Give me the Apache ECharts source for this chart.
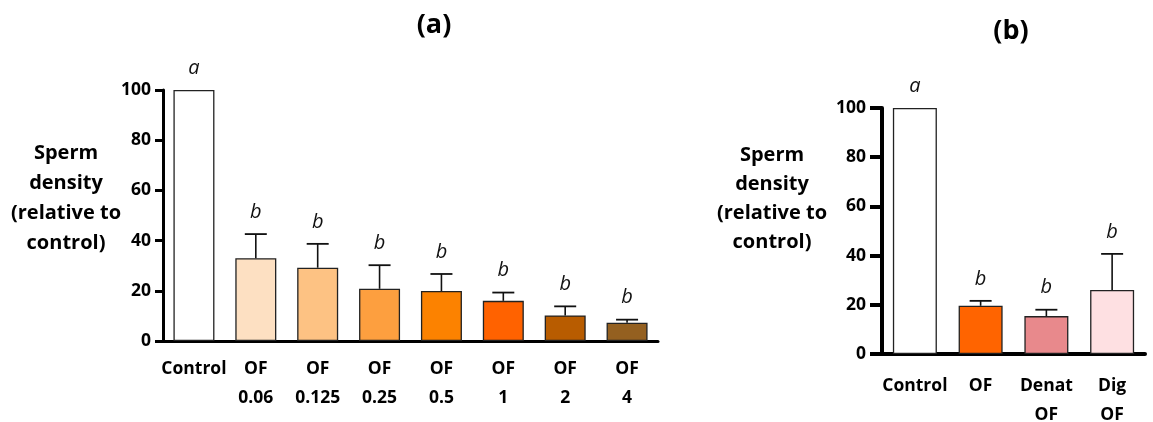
<!DOCTYPE html>
<html>
<head>
<meta charset="utf-8">
<script src="https://cdn.jsdelivr.net/npm/echarts@6/dist/echarts.min.js"></script>
<style>html,body{margin:0;padding:0;background:#fff}#c{width:1153px;height:422px}</style>
</head>
<body>
<div id="c"></div>
<script>
// Panel (a)
const catsA = ['Control', 'OF\n0.06', 'OF\n0.125', 'OF\n0.25', 'OF\n0.5', 'OF\n1', 'OF\n2', 'OF\n4'];
const valsA = [100, 33, 29.2, 20.8, 19.9, 16, 10.2, 7.3];
const errA  = [0, 9.6, 9.5, 9.4, 6.8, 3.3, 3.6, 1.2];
const lettersA = ['a', 'b', 'b', 'b', 'b', 'b', 'b', 'b'];
// Panel (b)
const catsB = ['Control', 'OF', 'Denat\nOF', 'Dig\nOF'];
const valsB = [100, 19.6, 15.4, 26];
const errB  = [0, 2.0, 2.6, 14.7];
const lettersB = ['a', 'b', 'b', 'b'];
const yTicks = [0, 20, 40, 60, 80, 100];

const colorsA = ['#ffffff', '#fde0c2', '#fdc283', '#fd9f3f', '#fc8200', '#ff6200', '#b85c00', '#946020'];
const colorsB = ['#ffffff', '#ff6400', '#e8898c', '#fee0e2'];

const FONT = 'Open Sans';
const chart = echarts.init(document.getElementById('c'), null, {renderer: 'canvas'});

function errSeries(xi, yi, vals, errs, letters) {
  return {
    type: 'custom', xAxisIndex: xi, yAxisIndex: yi, z: 5,
    data: vals.map((v, i) => [i, v, errs[i]]),
    renderItem: function (params, api) {
      const idx = api.value(0), v = api.value(1), e = api.value(2);
      const base = api.coord([idx, v]);
      const top = api.coord([idx, v + e]);
      const children = [];
      if (e > 0) {
        children.push({type: 'line', shape: {x1: base[0], y1: base[1], x2: top[0], y2: top[1]},
          style: {stroke: '#111', lineWidth: 1.6}});
        children.push({type: 'line', shape: {x1: top[0] - 11, y1: top[1], x2: top[0] + 11, y2: top[1]},
          style: {stroke: '#111', lineWidth: 1.8}});
      }
      children.push({type: 'text', x: top[0], y: top[1] - 22,
        style: {text: letters[params.dataIndex], fontFamily: FONT, fontStyle: 'italic', fontSize: 20,
          fill: '#111', align: 'center', verticalAlign: 'middle'}});
      return {type: 'group', children: children};
    }
  };
}

function xAx(gi, cats) {
  const b = gi === 1;
  return {
    type: 'category', gridIndex: gi, data: cats,
    axisLine: {lineStyle: {color: '#000', width: b ? 4 : 3}},
    axisTick: {alignWithLabel: true, length: b ? 13 : 10, lineStyle: {color: '#000', width: b ? 4 : 3}},
    axisLabel: {color: '#000', fontFamily: FONT, fontWeight: 'bold', fontSize: 17.5, lineHeight: 29,
      margin: b ? 18 : 14, interval: 0}
  };
}
function yAx(gi) {
  const b = gi === 1;
  return {
    type: 'value', gridIndex: gi, min: 0, max: 100, interval: 20,
    axisLine: {show: true, lineStyle: {color: '#000', width: b ? 4 : 3}},
    axisTick: {show: true, length: b ? 12 : 8, lineStyle: {color: '#000', width: b ? 4 : 3}},
    splitLine: {show: false},
    axisLabel: {color: '#000', fontFamily: FONT, fontWeight: 'bold', fontSize: 17.5, margin: b ? 16 : 12,
      formatter: v => yTicks.includes(v) ? String(v) : ''}
  };
}

const yName = 'Sperm\ndensity\n(relative to\ncontrol)';

chart.setOption({
  animation: false,
  backgroundColor: '#fff',
  grid: [
    {left: 163, width: 495, top: 90, height: 251, containLabel: false, outerBoundsMode: 'none'},
    {left: 882, width: 263, top: 108, height: 246, containLabel: false, outerBoundsMode: 'none'}
  ],
  xAxis: [xAx(0, catsA), xAx(1, catsB)],
  yAxis: [yAx(0), yAx(1)],
  graphic: [
    {type: 'text', x: 434, y: 25, style: {text: '(a)', fontFamily: FONT, fontWeight: 'bold', fontSize: 27, fill: '#000', align: 'center', verticalAlign: 'middle'}},
    {type: 'text', x: 1011, y: 31, style: {text: '(b)', fontFamily: FONT, fontWeight: 'bold', fontSize: 27, fill: '#000', align: 'center', verticalAlign: 'middle'}},
    {type: 'text', x: 66, y: 198, style: {text: yName, fontFamily: FONT, fontWeight: 'bold', fontSize: 20, lineHeight: 30, fill: '#000', align: 'center', verticalAlign: 'middle'}},
    {type: 'text', x: 772, y: 199, style: {text: yName, fontFamily: FONT, fontWeight: 'bold', fontSize: 20, lineHeight: 29, fill: '#000', align: 'center', verticalAlign: 'middle'}}
  ],
  series: [
    {type: 'bar', xAxisIndex: 0, yAxisIndex: 0, barWidth: 41,
      data: valsA.map((v, i) => ({value: v, itemStyle: {color: colorsA[i]}})),
      itemStyle: {borderColor: '#222', borderWidth: 1.3}},
    errSeries(0, 0, valsA, errA, lettersA),
    {type: 'bar', xAxisIndex: 1, yAxisIndex: 1, barWidth: 44,
      data: valsB.map((v, i) => ({value: v, itemStyle: {color: colorsB[i]}})),
      itemStyle: {borderColor: '#222', borderWidth: 1.3}},
    errSeries(1, 1, valsB, errB, lettersB)
  ]
});
</script>
</body>
</html>
